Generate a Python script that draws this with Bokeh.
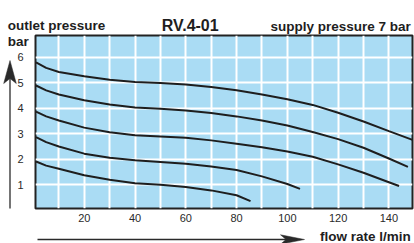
from bokeh.plotting import figure
from bokeh.models import Range1d, FixedTicker
from bokeh.core.properties import value
from bokeh.embed import file_html
from bokeh.resources import INLINE

# set pressure curves (flow l/min, outlet pressure bar)
flow_6 = [1, 5, 10, 20, 30, 40, 50, 60, 70, 80, 90, 100, 110, 120, 130, 140, 149.3]
pressure_6 = [5.80, 5.58, 5.42, 5.25, 5.12, 5.03, 4.99, 4.93, 4.83, 4.70, 4.54, 4.35, 4.13, 3.82, 3.48, 3.10, 2.76]

flow_5 = [1, 5, 10, 20, 30, 40, 50, 60, 70, 80, 90, 100, 110, 120, 130, 140, 147.5]
pressure_5 = [4.89, 4.70, 4.54, 4.31, 4.15, 4.03, 3.98, 3.91, 3.81, 3.68, 3.52, 3.32, 3.07, 2.79, 2.45, 2.03, 1.70]

flow_4 = [1, 5, 10, 20, 30, 40, 50, 60, 70, 80, 90, 100, 110, 120, 130, 140, 144]
pressure_4 = [3.87, 3.68, 3.52, 3.24, 3.06, 2.94, 2.89, 2.84, 2.74, 2.61, 2.47, 2.30, 2.10, 1.80, 1.47, 1.10, 0.95]

flow_3 = [1, 5, 10, 20, 30, 40, 50, 60, 70, 80, 90, 100, 105]
pressure_3 = [2.87, 2.67, 2.50, 2.22, 2.06, 1.96, 1.89, 1.82, 1.72, 1.58, 1.33, 1.03, 0.84]

flow_2 = [1, 5, 10, 20, 30, 40, 50, 60, 70, 80, 85.5]
pressure_2 = [1.91, 1.75, 1.63, 1.37, 1.20, 1.06, 1.00, 0.91, 0.78, 0.59, 0.36]

x_tick_labels = [20, 40, 60, 80, 100, 120, 140]
x_grid_lines = [10, 20, 30, 40, 50, 60, 70, 80, 90, 100, 110, 120, 130, 140]
y_ticks = [1, 2, 3, 4, 5, 6]

title_text = "RV.4-01"
y_title = ["outlet pressure", "bar"]
x_title = "flow rate l/min"
note_text = "supply pressure 7 bar"

FONT = "Liberation Sans"
INK = "#1e1e1e"

W, H = 414, 243
BL, BR, BT, BB = 35, 2, 35, 35
X0, X1 = 0.8, 149.3
Y0, Y1 = 0.07, 6.85
FW, FH = W - BL - BR, H - BT - BB

p = figure(width=W, height=H,
           x_range=Range1d(X0, X1), y_range=Range1d(Y0, Y1),
           output_backend="svg", toolbar_location=None,
           min_border_left=BL, min_border_right=BR,
           min_border_top=BT, min_border_bottom=BB)

p.background_fill_color = "#aadcf4"
p.border_fill_color = "white"
p.outline_line_color = "#222222"
p.outline_line_width = 2

p.xaxis.ticker = FixedTicker(ticks=x_tick_labels)
p.yaxis.ticker = FixedTicker(ticks=y_ticks)
p.xgrid.ticker = FixedTicker(ticks=x_grid_lines)
p.ygrid.ticker = FixedTicker(ticks=y_ticks)
for g in (p.xgrid, p.ygrid):
    g.grid_line_color = "white"
    g.grid_line_width = 2
    g.grid_line_alpha = 1.0

for ax in (p.xaxis, p.yaxis):
    ax.axis_line_color = None
    ax.major_tick_line_color = None
    ax.minor_tick_line_color = None
    ax.major_tick_out = 0
    ax.major_tick_in = 0
    ax.minor_tick_out = 0
    ax.major_label_text_font = FONT
    ax.major_label_text_font_size = "11px"
    ax.major_label_text_color = "#2a2a2a"
p.xaxis.major_label_standoff = 5
p.yaxis.major_label_standoff = 12

for fx, py in ((flow_6, pressure_6), (flow_5, pressure_5), (flow_4, pressure_4),
               (flow_3, pressure_3), (flow_2, pressure_2)):
    p.line(fx, py, line_color=INK, line_width=2)


# ---- decorations outside the frame (pixel layout -> data space, drawn unclipped)
def sx(px):
    return X0 + (px - BL) * (X1 - X0) / FW


def sy(py):
    return Y0 + (H - BB - py) * (Y1 - Y0) / FH


ARROW = "#2a2a2a"
# vertical (pressure) arrow
p.line([sx(9.5), sx(9.5)], [sy(208), sy(76)], line_color=ARROW, line_width=1.3, level="overlay")
p.patch([sx(9.5), sx(15.8), sx(9.5), sx(3.2)], [sy(60), sy(83), sy(78), sy(83)],
        fill_color=ARROW, line_color=ARROW, line_width=0.5, level="overlay")
# horizontal (flow) arrow
p.line([sx(37), sx(288)], [sy(239), sy(239)], line_color=ARROW, line_width=1.3, level="overlay")
p.patch([sx(304), sx(280), sx(285.5), sx(280)], [sy(239), sy(234.3), sy(239), sy(243.7)],
        fill_color=ARROW, line_color=ARROW, line_width=0.5, level="overlay")

# texts anchored at the frame corners with pixel offsets
common = dict(text_font=value(FONT), text_font_style="bold", text_color=INK,
              text_baseline="alphabetic", level="overlay")
p.text(x=[X0, X0], y=[Y1, Y1], text=y_title, x_offset=-27.7, y_offset=[-10, 5.5],
       text_font_size="13.5px", text_align="left", **common)
p.text(x=[X0], y=[Y1], text=[title_text], x_offset=154.7, y_offset=-10,
       text_font_size="16px", text_align="center", **common)
p.text(x=[X1], y=[Y1], text=[note_text], x_offset=-1.7, y_offset=-9.5,
       text_font_size="13.5px", text_align="right", **common)
p.text(x=[X1], y=[Y0], text=[x_title], x_offset=-1.7, y_offset=28,
       text_font_size="13.5px", text_align="right", **common)

open("out.html", "w").write(file_html(p, INLINE))
